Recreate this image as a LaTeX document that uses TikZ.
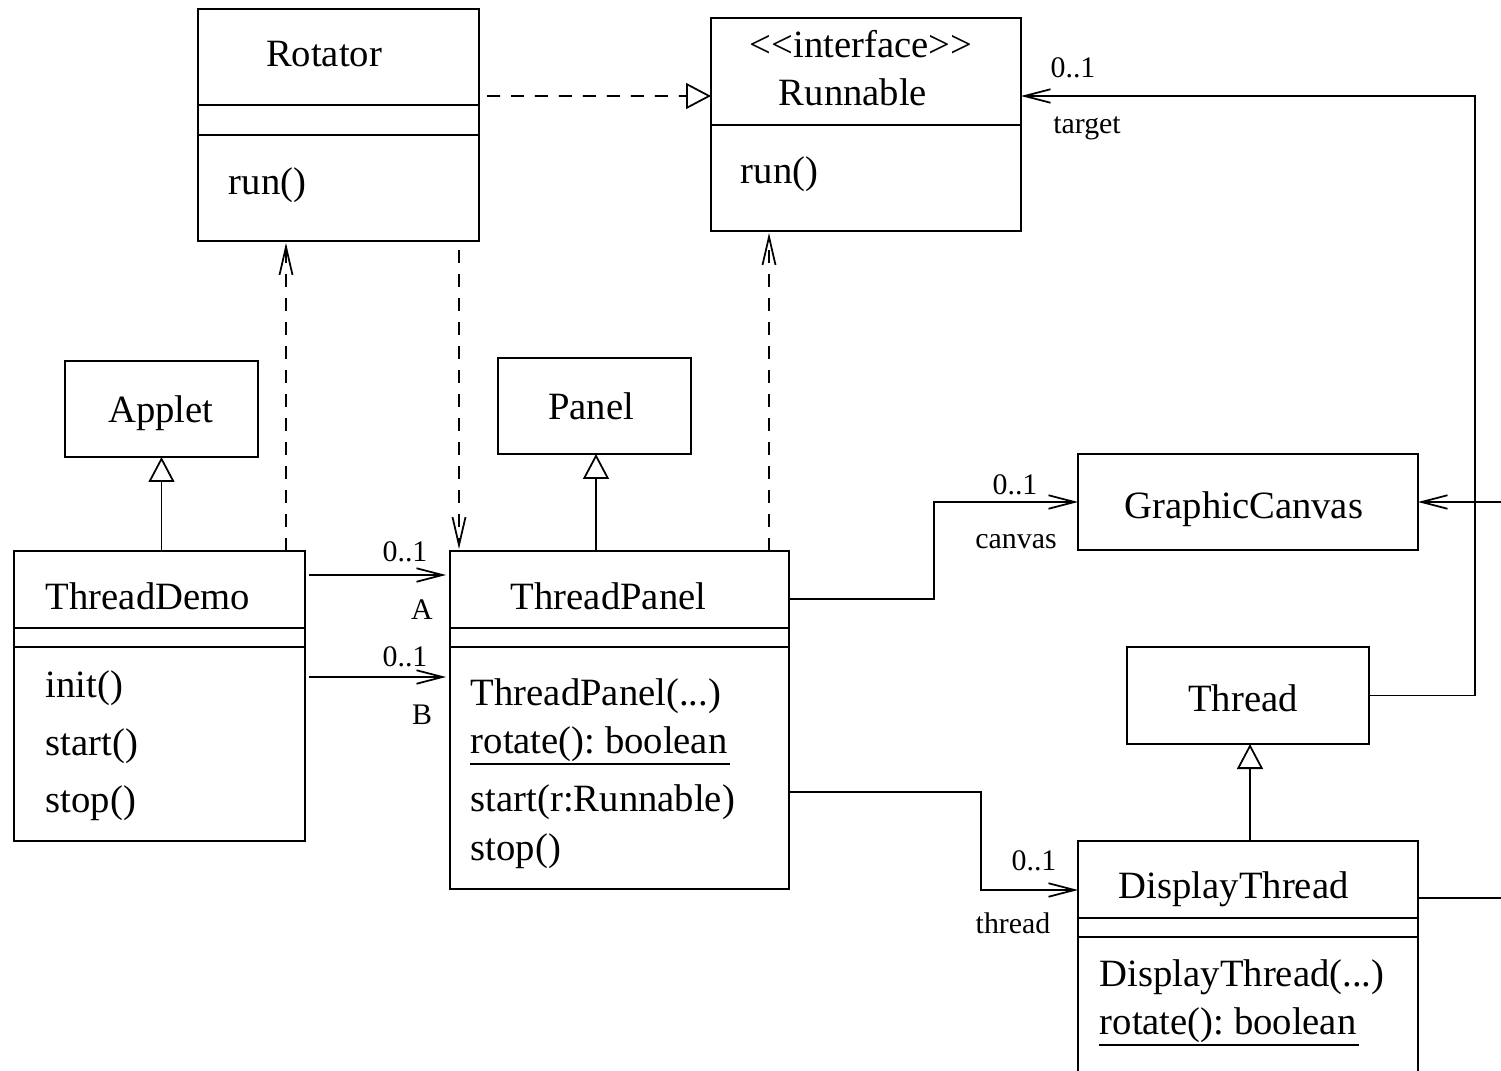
\documentclass[tikz,border=0pt]{standalone}
\usepackage{fontspec}
\setmainfont{Liberation Serif}
\usetikzlibrary{arrows.meta,fit}
\frenchspacing
\begin{document}
\begin{tikzpicture}[x=0.02cm,y=-0.02cm,line width=1pt,
  umlbox/.style={draw,inner sep=0pt,outer sep=0pt},
  bigtxt/.style={inner sep=0pt,font=\fontsize{22}{26}\selectfont},
  smalltxt/.style={inner sep=0pt,font=\fontsize{17}{20}\selectfont},
  assoc/.style={-{Straight Barb[length=0.52cm,width=0.27cm]}},
  depend/.style={dash pattern=on 0.26cm off 0.22cm,-{Straight Barb[length=0.56cm,width=0.26cm]}},
  realize/.style={dash pattern=on 0.26cm off 0.22cm,-{Triangle[open,fill=white,length=0.5cm,width=0.52cm]}},
  general/.style={-{Triangle[open,fill=white,length=0.5cm,width=0.52cm]}}]
\useasboundingbox (0,0) rectangle (1501,1071);
\fill[white] (0,0) rectangle (1501,1071);
\clip (0,0) rectangle (1501,1071);

% class boxes
\node[umlbox,fit={(198,9) (479,241)}] (rot) {};
\node[umlbox,fit={(711,18) (1021,231)}] (run) {};
\node[umlbox,fit={(65,361) (258,457)}] (applet) {};
\node[umlbox,fit={(498,358) (691,454)}] (panel) {};
\node[umlbox,fit={(14,551) (305,841)}] (demo) {};
\node[umlbox,fit={(450,551) (789,889)}] (tp) {};
\node[umlbox,fit={(1078,454) (1418,550)}] (gc) {};
\node[umlbox,fit={(1127,647) (1369,744)}] (th) {};
\node[umlbox,fit={(1078,841) (1418,1100)}] (dt) {};

% compartment dividers
\foreach \b/\w/\s in {rot/281/96, rot/281/126, run/310/107,
                      demo/291/77, demo/291/96, tp/339/77, tp/339/96,
                      dt/340/77, dt/340/96}
  \draw ([shift={(0,\s)}]\b.north west) -- ++(\w,0);

% class texts
\node[bigtxt,anchor=base] (rotname) at (324,67) {Rotator};
\node[bigtxt,anchor=base west] (rotm) at (228,195) {run()};
\node[bigtxt,anchor=base] (runst) at (861,58) {<{}<interface>{}>};
\node[bigtxt,anchor=base] (runname) at (853,106) {Runnable};
\node[bigtxt,anchor=base west] (runm) at (740,184) {run()};
\node[bigtxt,anchor=base] (appname) at (161,422) {Applet};
\node[bigtxt,anchor=base] (panname) at (591,419) {Panel};
\node[bigtxt,anchor=base west] (demoname) at (45,609) {ThreadDemo};
\node[bigtxt,anchor=base west] (demom1) at (45,697) {init()};
\node[bigtxt,anchor=base west] (demom2) at (45,755) {start()};
\node[bigtxt,anchor=base west] (demom3) at (45,812) {stop()};
\node[bigtxt,anchor=base west] (tpname) at (510,609) {ThreadPanel};
\node[bigtxt,anchor=base west] (tpm1) at (470,705) {ThreadPanel(...)};
\node[bigtxt,anchor=base west] (tpm2) at (470,753) {rotate(): boolean};
\node[bigtxt,anchor=base west] (tpm3) at (470,811) {start(r:Runnable)};
\node[bigtxt,anchor=base west] (tpm4) at (470,860) {stop()};
\node[bigtxt,anchor=base] (gcname) at (1244,518) {GraphicCanvas};
\node[bigtxt,anchor=base] (thname) at (1243,711) {Thread};
\node[bigtxt,anchor=base west] (dtname) at (1118,898) {DisplayThread};
\node[bigtxt,anchor=base west] (dtm1) at (1099,986) {DisplayThread(...)};
\node[bigtxt,anchor=base west] (dtm2) at (1099,1034) {rotate(): boolean};

% static members underlined
\draw ([shift={(0,11)}]tpm2.base west) -- ([shift={(2,11)}]tpm2.base east);
\draw ([shift={(0,11)}]dtm2.base west) -- ([shift={(2,11)}]dtm2.base east);

% generalizations
\draw[general] (applet.south |- demo.north) -- (applet.south);
\draw[general] ([xshift=0.03cm]panel.south |- tp.north) -- ([xshift=0.03cm]panel.south);
\draw[general] ([xshift=0.04cm]th.south |- dt.north) -- ([xshift=0.04cm]th.south);

% realization
\draw[realize] ([shift={(8,87)}]rot.north east) -- ([shift={(0,78)}]run.north west);

% dependencies
\coordinate (d1) at ([shift={(272,0)}]demo.north west);
\draw[depend] (d1) -- ([yshift=-0.04cm]d1 |- rot.south);
\coordinate (d2) at ([shift={(9,0)}]tp.north west);
\draw[depend] ([yshift=-0.18cm]d2 |- rot.south) -- ([yshift=0.04cm]d2);
\coordinate (d3) at ([shift={(-20,0)}]tp.north east);
\draw[depend] (d3) -- ([yshift=-0.04cm]d3 |- run.south);

% associations
\draw[assoc] ([shift={(4,24)}]demo.north east) -- ([shift={(-4,24)}]tp.north west);
\draw[assoc] ([shift={(4,126)}]demo.north east) -- ([shift={(-4,126)}]tp.north west);
\node[smalltxt,anchor=base] (ma) at (405,561) {0..1};
\node[smalltxt,anchor=base] (ra) at (422,619) {A};
\node[smalltxt,anchor=base] (mb) at (405,666) {0..1};
\node[smalltxt,anchor=base] (rb) at (422,724) {B};

\draw[assoc] ([shift={(0,48)}]tp.north east) -- ++(145,0) |- (gc.west);
\node[smalltxt,anchor=base] (mc) at (1015,494) {0..1};
\node[smalltxt,anchor=base] (rc) at (1016,548) {canvas};

\draw[assoc] ([shift={(0,241)}]tp.north east) -- ++(192,0) |- ([shift={(0,49)}]dt.north west);
\node[smalltxt,anchor=base] (md) at (1034,870) {0..1};
\node[smalltxt,anchor=base] (rd) at (1013,933) {thread};

\draw[assoc] (th.east) -- ++(106,0) |- ([shift={(0,78)}]run.north east);
\node[smalltxt,anchor=base] (me) at (1073,78) {0..1};
\node[smalltxt,anchor=base] (re) at (1087,134) {target};

\coordinate (gcin) at (1501,502);
\draw[assoc] (gcin) -- (gc.east);
\coordinate (dtout) at (1501,898);
\draw ([shift={(0,57)}]dt.north east) -- (dtout);
\end{tikzpicture}
\end{document}
